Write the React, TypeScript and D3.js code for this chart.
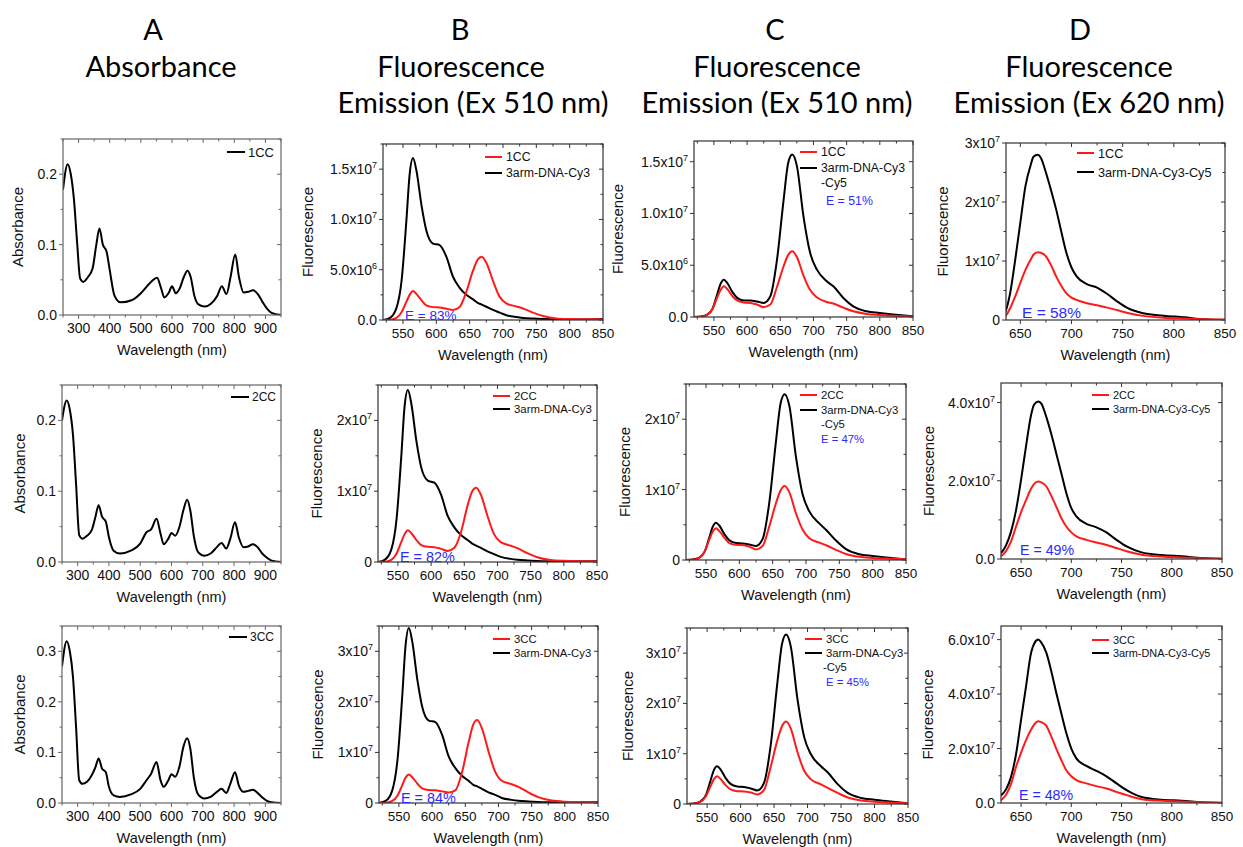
import * as d3 from 'd3'

// ---- absorbance (panel A) ----
const absWl = [250, 265, 275, 285, 295, 305, 315, 330, 345, 357, 367, 378, 390, 400, 415, 435, 470, 500, 520, 535, 552, 565, 575, 590, 600, 612, 625, 638, 650, 660, 672, 685, 705, 725, 745, 760, 775, 788, 803, 815, 830, 845, 860, 875, 890, 905, 920, 950]
const abs1CC = [0.178, 0.214, 0.2, 0.165, 0.105, 0.052, 0.047, 0.054, 0.066, 0.1, 0.123, 0.1, 0.09, 0.064, 0.028, 0.018, 0.021, 0.031, 0.041, 0.048, 0.053, 0.038, 0.025, 0.032, 0.041, 0.031, 0.038, 0.054, 0.063, 0.054, 0.027, 0.015, 0.012, 0.016, 0.027, 0.041, 0.03, 0.054, 0.086, 0.054, 0.032, 0.033, 0.035, 0.03, 0.019, 0.009, 0.003, 0]
const abs2CC = [0.2, 0.228, 0.215, 0.18, 0.11, 0.038, 0.033, 0.037, 0.045, 0.064, 0.08, 0.064, 0.057, 0.035, 0.016, 0.012, 0.016, 0.026, 0.042, 0.046, 0.061, 0.04, 0.025, 0.033, 0.041, 0.037, 0.049, 0.073, 0.088, 0.073, 0.035, 0.014, 0.009, 0.012, 0.021, 0.027, 0.019, 0.033, 0.056, 0.035, 0.021, 0.022, 0.025, 0.021, 0.012, 0.006, 0.002, 0]
const abs3CC = [0.27, 0.32, 0.3, 0.25, 0.15, 0.045, 0.038, 0.042, 0.055, 0.071, 0.088, 0.068, 0.061, 0.032, 0.015, 0.012, 0.017, 0.028, 0.045, 0.058, 0.081, 0.045, 0.032, 0.045, 0.057, 0.052, 0.071, 0.111, 0.128, 0.108, 0.048, 0.017, 0.009, 0.012, 0.022, 0.028, 0.02, 0.038, 0.061, 0.035, 0.022, 0.024, 0.026, 0.02, 0.011, 0.004, 0.0013, 0]

// ---- emission, excitation 510 nm (panels B and C) ----
const emWl = [520, 530, 540, 548, 555, 560, 565, 570, 578, 585, 595, 605, 615, 625, 635, 645, 655, 662, 668, 675, 685, 695, 705, 720, 730, 745, 760, 780, 800, 820, 850]
const b1Cy3 = [0, 1.9e5, 1.16e6, 4.0e6, 9.8e6, 1.45e7, 1.61e7, 1.49e7, 1.13e7, 8.9e6, 7.6e6, 7.45e6, 6.3e6, 4.3e6, 3.2e6, 2.5e6, 2.05e6, 1.7e6, 1.53e6, 1.32e6, 1.0e6, 7.4e5, 4.8e5, 2.9e5, 2.1e5, 1.45e5, 1.0e5, 6e4, 6e4, 6e4, 1.0e5]
const b1CC = [0, 1e4, 2e5, 8e5, 1.8e6, 2.5e6, 2.88e6, 2.6e6, 1.95e6, 1.45e6, 1.28e6, 1.25e6, 1.12e6, 1.0e6, 1.3e6, 2.8e6, 4.9e6, 6.0e6, 6.3e6, 5.7e6, 3.9e6, 2.3e6, 1.65e6, 1.35e6, 1.15e6, 7.3e5, 4e5, 1.6e5, 1e5, 8e4, 6e4]
const b2Cy3 = [0, 3e5, 1.75e6, 6.1e6, 1.48e7, 2.19e7, 2.43e7, 2.25e7, 1.7e7, 1.34e7, 1.15e7, 1.12e7, 9.5e6, 6.5e6, 4.9e6, 3.8e6, 3.1e6, 2.6e6, 2.3e6, 2.0e6, 1.5e6, 1.1e6, 7.3e5, 4.4e5, 3.2e5, 2.2e5, 1.5e5, 1e5, 1e5, 1e5, 1.5e5]
const b2CC = [0, 2e4, 3e5, 1.2e6, 2.8e6, 3.9e6, 4.5e6, 4.1e6, 3.1e6, 2.4e6, 2.15e6, 2.1e6, 1.85e6, 1.56e6, 2.0e6, 4.2e6, 8.0e6, 1.0e7, 1.05e7, 9.5e6, 6.5e6, 3.9e6, 2.8e6, 2.3e6, 1.95e6, 1.25e6, 6.8e5, 2.8e5, 1.6e5, 1.2e5, 1e5]
const b3Cy3 = [0, 4e5, 2.5e6, 8.7e6, 2.11e7, 3.11e7, 3.46e7, 3.2e7, 2.42e7, 1.91e7, 1.63e7, 1.6e7, 1.35e7, 9.2e6, 6.9e6, 5.4e6, 4.4e6, 3.6e6, 3.3e6, 2.8e6, 2.1e6, 1.6e6, 1.0e6, 6.2e5, 4.5e5, 3.1e5, 2.1e5, 1.4e5, 1.4e5, 1.4e5, 2e5]
const b3CC = [0, 3e4, 4e5, 1.5e6, 3.5e6, 5.0e6, 5.65e6, 5.1e6, 3.8e6, 2.9e6, 2.55e6, 2.5e6, 2.3e6, 2.1e6, 2.5e6, 6.0e6, 1.2e7, 1.55e7, 1.64e7, 1.48e7, 1.02e7, 6.2e6, 4.4e6, 3.7e6, 3.2e6, 2.1e6, 1.15e6, 4.8e5, 2.6e5, 2e5, 1.5e5]
const c1Cy5 = [0, 5e4, 2.3e5, 8e5, 2.2e6, 3.2e6, 3.6e6, 3.3e6, 2.4e6, 1.85e6, 1.6e6, 1.6e6, 1.5e6, 1.35e6, 2.0e6, 5.5e6, 1.13e7, 1.49e7, 1.57e7, 1.46e7, 9.7e6, 6.2e6, 4.6e6, 3.45e6, 2.96e6, 1.84e6, 1.03e6, 5.5e5, 3.9e5, 2.5e5, 6e4]
const c1CC = [0, 1e4, 2e5, 8e5, 1.9e6, 2.6e6, 2.96e6, 2.7e6, 2.0e6, 1.6e6, 1.4e6, 1.35e6, 1.2e6, 9.5e5, 1.2e6, 2.9e6, 4.9e6, 6.0e6, 6.35e6, 5.8e6, 4.0e6, 2.6e6, 1.9e6, 1.45e6, 1.3e6, 9e5, 5.5e5, 3e5, 2e5, 1.2e5, 6e4]
const c2Cy5 = [0, 7e4, 3.5e5, 1.2e6, 3.2e6, 4.7e6, 5.3e6, 4.9e6, 3.6e6, 2.8e6, 2.4e6, 2.36e6, 2.2e6, 2.0e6, 3.0e6, 8.2e6, 1.69e7, 2.23e7, 2.355e7, 2.19e7, 1.46e7, 9.3e6, 6.9e6, 5.2e6, 4.3e6, 2.76e6, 1.55e6, 8.2e5, 5.8e5, 3.7e5, 1e5]
const c2CC = [0, 2e4, 3e5, 1.2e6, 2.9e6, 4.0e6, 4.5e6, 4.1e6, 3.1e6, 2.4e6, 2.15e6, 2.13e6, 1.9e6, 1.5e6, 2.0e6, 4.8e6, 8.1e6, 9.9e6, 1.05e7, 9.6e6, 6.6e6, 4.3e6, 3.1e6, 2.46e6, 2.1e6, 1.45e6, 8.5e5, 4.5e5, 3e5, 2e5, 1e5]
const c3Cy5 = [0, 1e5, 5e5, 1.7e6, 4.6e6, 6.7e6, 7.5e6, 6.9e6, 5.1e6, 4.0e6, 3.5e6, 3.4e6, 3.1e6, 2.7e6, 4.2e6, 1.17e7, 2.42e7, 3.19e7, 3.37e7, 3.13e7, 2.08e7, 1.33e7, 9.9e6, 7.5e6, 6.3e6, 3.95e6, 2.2e6, 1.2e6, 8.4e5, 5.4e5, 1.3e5]
const c3CC = [0, 3e4, 4e5, 1.5e6, 3.5e6, 4.9e6, 5.5e6, 5.0e6, 3.7e6, 2.9e6, 2.55e6, 2.5e6, 2.3e6, 1.9e6, 2.8e6, 7.4e6, 1.27e7, 1.55e7, 1.64e7, 1.5e7, 1.03e7, 6.6e6, 4.9e6, 3.9e6, 3.2e6, 2.2e6, 1.3e6, 7e5, 4.5e5, 3e5, 1.3e5]

// ---- emission, excitation 620 nm (panel D) ----
const dWl = [630, 635, 640, 645, 650, 655, 660, 663, 667, 670, 675, 680, 685, 690, 695, 700, 705, 715, 725, 735, 745, 755, 770, 790, 810, 830, 850]
const d1Cy5 = [3e5, 1.25e6, 4.5e6, 1.02e7, 1.65e7, 2.27e7, 2.62e7, 2.77e7, 2.8e7, 2.75e7, 2.5e7, 2.2e7, 1.875e7, 1.5e7, 1.14e7, 8.9e6, 7.4e6, 6.1e6, 5.5e6, 4.4e6, 3.1e6, 2.0e6, 1.14e6, 7.4e5, 4.5e5, 1.1e5, 0]
const d1CC = [2e5, 5.7e5, 2e6, 4e6, 6.3e6, 8.5e6, 1.02e7, 1.11e7, 1.15e7, 1.14e7, 1.08e7, 9.3e6, 7.4e6, 5.8e6, 4.5e6, 3.8e6, 3.4e6, 2.85e6, 2.5e6, 2.1e6, 1.65e6, 1.2e6, 7e5, 4e5, 2.5e5, 1.2e5, 8e4]
const d2Cy5 = [1.5e6, 3.5e6, 7e6, 1.25e7, 2.03e7, 2.9e7, 3.69e7, 3.95e7, 4.03e7, 3.98e7, 3.64e7, 3.2e7, 2.7e7, 2.2e7, 1.69e7, 1.3e7, 1.09e7, 9.0e6, 8.1e6, 6.8e6, 4.9e6, 3.2e6, 1.7e6, 1.0e6, 6.8e5, 2.5e5, 0]
const d2CC = [7e5, 2e6, 4.5e6, 8.3e6, 1.2e7, 1.51e7, 1.8e7, 1.92e7, 1.98e7, 1.96e7, 1.86e7, 1.62e7, 1.34e7, 1.05e7, 8.3e6, 6.8e6, 5.8e6, 4.9e6, 4.2e6, 3.6e6, 2.8e6, 2.0e6, 1.1e6, 6.5e5, 4e5, 2e5, 1e5]
const d3Cy5 = [2.8e6, 5e6, 9.6e6, 1.8e7, 3.06e7, 4.3e7, 5.53e7, 5.85e7, 6.0e7, 5.9e7, 5.53e7, 4.85e7, 4.05e7, 3.3e7, 2.57e7, 2e7, 1.64e7, 1.36e7, 1.18e7, 9.8e6, 7.2e6, 4.7e6, 2.2e6, 1.2e6, 8.6e5, 2.5e5, 0]
const d3CC = [1e6, 3e6, 7e6, 1.33e7, 1.85e7, 2.32e7, 2.7e7, 2.88e7, 3.0e7, 2.97e7, 2.84e7, 2.45e7, 2.0e7, 1.58e7, 1.2e7, 9.8e6, 8.4e6, 7.2e6, 6.2e6, 5.3e6, 4.1e6, 2.9e6, 1.4e6, 8e5, 5.5e5, 2.5e5, 1e5]

// ---- tick labels ----
const absXTicks = [300, 400, 500, 600, 700, 800, 900]
const emXTicks = [550, 600, 650, 700, 750, 800, 850]
const dXTicks = [650, 700, 750, 800, 850]
type YTick = [number, string, string?]
const absYTicks: YTick[] = [[0, '0.0'], [0.1, '0.1'], [0.2, '0.2']]
const absYTicks3: YTick[] = [[0, '0.0'], [0.1, '0.1'], [0.2, '0.2'], [0.3, '0.3']]
const yTicks5e6: YTick[] = [[0, '0.0'], [5e6, '5.0x10', '6'], [1e7, '1.0x10', '7'], [1.5e7, '1.5x10', '7']]
const yTicks1e7: YTick[] = [[0, '0'], [1e7, '1x10', '7'], [2e7, '2x10', '7']]
const yTicks1e7b: YTick[] = [[0, '0'], [1e7, '1x10', '7'], [2e7, '2x10', '7'], [3e7, '3x10', '7']]
const yTicks2e7: YTick[] = [[0, '0.0'], [2e7, '2.0x10', '7'], [4e7, '4.0x10', '7']]
const yTicks2e7b: YTick[] = [[0, '0.0'], [2e7, '2.0x10', '7'], [4e7, '4.0x10', '7'], [6e7, '6.0x10', '7']]

const RED = '#ff1a1a'
const BLUE = '#2a2aff'
const FONT = 'Arial, "Liberation Sans", sans-serif'

type Series = { wl: number[]; v: number[]; color: string }
type Legend = { x1: number; x2: number; tx: number; ys: number[]; labels: string[]; colors: string[]; fs: number; extra?: { text: string; y: number; x: number; color: string }[] }
type Spec = {
  id: string
  box: [number, number, number, number] // left, top, right, bottom
  xDomain: [number, number]
  yDomain: [number, number]
  xTicks: number[]
  xMinorStep: number
  yTicks: YTick[]
  yMinorStep: number
  yTitle: string
  yTitleX: number
  series: Series[]
  legend: Legend
  note?: { text: string; x: number; y: number; fs: number }
  frame: string
}

function Panel({ s }: { s: Spec }) {
  const [l, t, r, b] = s.box
  const x = d3.scaleLinear().domain(s.xDomain).range([l, r])
  const y = d3.scaleLinear().domain(s.yDomain).range([b, t])
  const line = d3
    .line<[number, number]>()
    .x((d) => x(d[0]))
    .y((d) => y(d[1]))
    .curve(d3.curveMonotoneX)
  const xMinor = d3.range(Math.ceil(s.xDomain[0] / s.xMinorStep) * s.xMinorStep, s.xDomain[1] + 0.01, s.xMinorStep)
  const yMinor = d3.range(0, s.yDomain[1] * 1.0001, s.yMinorStep)
  const isMajorX = (v: number) => s.xTicks.includes(v)
  const isMajorY = (v: number) => s.yTicks.some((k) => Math.abs(k[0] - v) < s.yMinorStep * 0.01)
  const clip = `clip-${s.id}`
  const cy = (t + b) / 2

  return (
    <g fontFamily={FONT}>
      <defs>
        <clipPath id={clip}>
          <rect x={l} y={t} width={r - l} height={b - t} />
        </clipPath>
      </defs>
      {/* ticks */}
      {xMinor.map((v) => {
        const len = isMajorX(v) ? 4 : 2.5
        return (
          <g key={'xt' + v} stroke={s.frame} strokeWidth={1}>
            <line x1={x(v)} x2={x(v)} y1={b} y2={b + len} />
            <line x1={x(v)} x2={x(v)} y1={t} y2={t + len} />
          </g>
        )
      })}
      {yMinor.map((v) => {
        const len = isMajorY(v) ? 4 : 2.5
        return (
          <g key={'yt' + v} stroke={s.frame} strokeWidth={1}>
            <line x1={l - len} x2={l} y1={y(v)} y2={y(v)} />
            <line x1={r - len} x2={r} y1={y(v)} y2={y(v)} />
          </g>
        )
      })}
      {s.xTicks.map((v) => (
        <text key={'xl' + v} x={x(v)} y={b + 18} textAnchor="middle" fontSize={s.id.startsWith('a') ? 14 : 13.5} fill="#111">
          {v}
        </text>
      ))}
      {s.yTicks.map(([v, m, e]) => (
        <text key={'yl' + v} x={l - 6} y={y(v) + 5} textAnchor="end" fontSize={14} fill="#111">
          {m}
          {e ? (
            <tspan dy={-6} fontSize={9}>
              {e}
            </tspan>
          ) : null}
        </text>
      ))}
      <text x={(l + r) / 2} y={b + 40} textAnchor="middle" fontSize={14.5} fill="#111">
        Wavelength (nm)
      </text>
      <text transform={`translate(${s.yTitleX},${cy}) rotate(-90)`} textAnchor="middle" fontSize={15} fill="#111">
        {s.yTitle}
      </text>
      {/* curves */}
      <g clipPath={`url(#${clip})`}>
        {s.series.map((se, i) => (
          <path
            key={i}
            d={line(se.wl.map((w, j) => [w, se.v[j]] as [number, number])) ?? ''}
            fill="none"
            stroke={se.color}
            strokeWidth={2}
            strokeLinejoin="round"
          />
        ))}
      </g>
      <rect x={l} y={t} width={r - l} height={b - t} fill="none" stroke={s.frame} strokeWidth={1.2} />
      {/* legend */}
      {s.legend.labels.map((lab, i) => (
        <g key={'lg' + i}>
          <line x1={s.legend.x1} x2={s.legend.x2} y1={s.legend.ys[i]} y2={s.legend.ys[i]} stroke={s.legend.colors[i]} strokeWidth={2} />
          <text x={s.legend.tx} y={s.legend.ys[i] + s.legend.fs * 0.36} fontSize={s.legend.fs} fill="#111">
            {lab}
          </text>
        </g>
      ))}
      {(s.legend.extra ?? []).map((ex, i) => (
        <text key={'ex' + i} x={ex.x} y={ex.y + s.legend.fs * 0.36} fontSize={s.legend.fs} fill={ex.color}>
          {ex.text}
        </text>
      ))}
      {s.note ? (
        <text x={s.note.x} y={s.note.y} fontSize={s.note.fs} fill={BLUE}>
          {s.note.text}
        </text>
      ) : null}
    </g>
  )
}

const absSeries = (v: number[]): Series[] => [{ wl: absWl, v, color: '#000' }]
const emSeries = (black: number[], red: number[]): Series[] => [
  { wl: emWl, v: black, color: '#000' },
  { wl: emWl, v: red, color: RED },
]
const dSeries = (black: number[], red: number[]): Series[] => [
  { wl: dWl, v: black, color: '#000' },
  { wl: dWl, v: red, color: RED },
]

const aLegend = (lab: string, x1: number, y: number, fs: number): Legend => ({
  x1,
  x2: x1 + 18,
  tx: x1 + 21,
  ys: [y],
  labels: [lab],
  colors: ['#000'],
  fs,
})
const twoLegend = (cc: string, other: string, x1: number, ys: number[], fs: number): Legend => ({
  x1,
  x2: x1 + 17,
  tx: x1 + 21,
  ys,
  labels: [cc, other],
  colors: [RED, '#000'],
  fs,
})

const specs: Spec[] = [
  // row 1
  { id: 'a1', box: [63, 139, 281, 315], xDomain: [250, 950], yDomain: [0, 0.25], xTicks: absXTicks, xMinorStep: 50, yTicks: absYTicks, yMinorStep: 0.05, yTitle: 'Absorbance', yTitleX: 23, series: absSeries(abs1CC), legend: aLegend('1CC', 227, 152, 13), frame: '#666' },
  { id: 'b1', box: [383, 144, 603, 320], xDomain: [520, 850], yDomain: [0, 1.75e7], xTicks: emXTicks, xMinorStep: 25, yTicks: yTicks5e6, yMinorStep: 2.5e6, yTitle: 'Fluorescence', yTitleX: 313, series: emSeries(b1Cy3, b1CC), legend: twoLegend('1CC', '3arm-DNA-Cy3', 485, [157, 173], 12.3), note: { text: 'E = 83%', x: 405, y: 320, fs: 13.5 }, frame: '#333' },
  { id: 'c1', box: [694, 141, 913, 317], xDomain: [520, 850], yDomain: [0, 1.7e7], xTicks: emXTicks, xMinorStep: 25, yTicks: yTicks5e6, yMinorStep: 2.5e6, yTitle: 'Fluorescence', yTitleX: 623, series: emSeries(c1Cy5, c1CC), legend: { ...twoLegend('1CC', '3arm-DNA-Cy3', 800, [152, 168], 12.3), extra: [{ text: '-Cy5', x: 821, y: 183, color: '#111' }, { text: 'E = 51%', x: 826, y: 201, color: BLUE }] }, frame: '#333' },
  { id: 'd1', box: [1006, 143, 1225, 320], xDomain: [636, 850], yDomain: [0, 3e7], xTicks: dXTicks, xMinorStep: 25, yTicks: yTicks1e7b, yMinorStep: 5e6, yTitle: 'Fluorescence', yTitleX: 948, series: dSeries(d1Cy5, d1CC), legend: twoLegend('1CC', '3arm-DNA-Cy3-Cy5', 1077, [153, 172], 12.7), note: { text: 'E = 58%', x: 1022, y: 318, fs: 15.5 }, frame: '#333' },
  // row 2
  { id: 'a2', box: [62, 385, 281, 562], xDomain: [250, 950], yDomain: [0, 0.25], xTicks: absXTicks, xMinorStep: 50, yTicks: absYTicks, yMinorStep: 0.05, yTitle: 'Absorbance', yTitleX: 25, series: absSeries(abs2CC), legend: aLegend('2CC', 231, 397, 12), frame: '#666' },
  { id: 'b2', box: [378, 385, 597, 562], xDomain: [520, 850], yDomain: [0, 2.5e7], xTicks: emXTicks, xMinorStep: 25, yTicks: yTicks1e7, yMinorStep: 5e6, yTitle: 'Fluorescence', yTitleX: 322, series: emSeries(b2Cy3, b2CC), legend: twoLegend('2CC', '3arm-DNA-Cy3', 493, [396, 409], 11.4), note: { text: 'E = 82%', x: 400, y: 562, fs: 14.4 }, frame: '#333' },
  { id: 'c2', box: [686, 384, 906, 560], xDomain: [520, 850], yDomain: [0, 2.5e7], xTicks: emXTicks, xMinorStep: 25, yTicks: yTicks1e7, yMinorStep: 5e6, yTitle: 'Fluorescence', yTitleX: 630, series: emSeries(c2Cy5, c2CC), legend: { ...twoLegend('2CC', '3arm-DNA-Cy3', 800, [395, 410], 11.3), extra: [{ text: '-Cy5', x: 821, y: 424, color: '#111' }, { text: 'E = 47%', x: 821, y: 439, color: BLUE }] }, frame: '#333' },
  { id: 'd2', box: [1001, 383, 1222, 559], xDomain: [630, 850], yDomain: [0, 4.5e7], xTicks: dXTicks, xMinorStep: 25, yTicks: yTicks2e7, yMinorStep: 1e7, yTitle: 'Fluorescence', yTitleX: 934, series: dSeries(d2Cy5, d2CC), legend: twoLegend('2CC', '3arm-DNA-Cy3-Cy5', 1092, [395, 409], 10.9), note: { text: 'E = 49%', x: 1020, y: 555, fs: 14.2 }, frame: '#333' },
  // row 3
  { id: 'a3', box: [62, 626, 281, 803], xDomain: [250, 950], yDomain: [0, 0.35], xTicks: absXTicks, xMinorStep: 50, yTicks: absYTicks3, yMinorStep: 0.05, yTitle: 'Absorbance', yTitleX: 25, series: absSeries(abs3CC), legend: aLegend('3CC', 229, 637, 12), frame: '#666' },
  { id: 'b3', box: [379, 626, 598, 803], xDomain: [520, 850], yDomain: [0, 3.5e7], xTicks: emXTicks, xMinorStep: 25, yTicks: yTicks1e7b, yMinorStep: 5e6, yTitle: 'Fluorescence', yTitleX: 323, series: emSeries(b3Cy3, b3CC), legend: twoLegend('3CC', '3arm-DNA-Cy3', 493, [639, 653], 11.3), note: { text: 'E = 84%', x: 401, y: 803, fs: 14.4 }, frame: '#333' },
  { id: 'c3', box: [687, 628, 908, 804], xDomain: [520, 850], yDomain: [0, 3.5e7], xTicks: emXTicks, xMinorStep: 25, yTicks: yTicks1e7b, yMinorStep: 5e6, yTitle: 'Fluorescence', yTitleX: 633, series: emSeries(c3Cy5, c3CC), legend: { ...twoLegend('3CC', '3arm-DNA-Cy3', 805, [639, 653], 11.3), extra: [{ text: '-Cy5', x: 823, y: 667, color: '#111' }, { text: 'E = 45%', x: 826, y: 682, color: BLUE }] }, frame: '#333' },
  { id: 'd3', box: [1001, 626, 1222, 803], xDomain: [630, 850], yDomain: [0, 6.5e7], xTicks: dXTicks, xMinorStep: 25, yTicks: yTicks2e7b, yMinorStep: 1e7, yTitle: 'Fluorescence', yTitleX: 933, series: dSeries(d3Cy5, d3CC), legend: twoLegend('3CC', '3arm-DNA-Cy3-Cy5', 1092, [640, 653], 10.9), note: { text: 'E = 48%', x: 1019, y: 800, fs: 14.2 }, frame: '#333' },
]

// column headers: [letter, line 2, line 3, centre x for each line]
const headers: { lines: string[]; xs: number[] }[] = [
  { lines: ['A', 'Absorbance'], xs: [153, 161] },
  { lines: ['B', 'Fluorescence', 'Emission (Ex 510 nm)'], xs: [460, 461, 473] },
  { lines: ['C', 'Fluorescence', 'Emission (Ex 510 nm)'], xs: [775, 777, 777] },
  { lines: ['D', 'Fluorescence', 'Emission (Ex 620 nm)'], xs: [1080, 1089, 1089] },
]
const headerBaselines = [40, 77, 113]

export default function App() {
  return (
    <svg width={1243} height={847} style={{ position: 'absolute', left: 0, top: 0, background: '#fff' }}>
      <rect width={1243} height={847} fill="#fff" />
      {headers.map((h, i) => (
        <g key={i}>
          {h.lines.map((txt, j) => (
            <text key={j} x={h.xs[j]} y={headerBaselines[j]} textAnchor="middle" fontFamily="Lato, 'Open Sans', sans-serif" fontSize={29} fill="#000">
              {txt}
            </text>
          ))}
        </g>
      ))}
      {specs.map((s) => (
        <Panel key={s.id} s={s} />
      ))}
    </svg>
  )
}
